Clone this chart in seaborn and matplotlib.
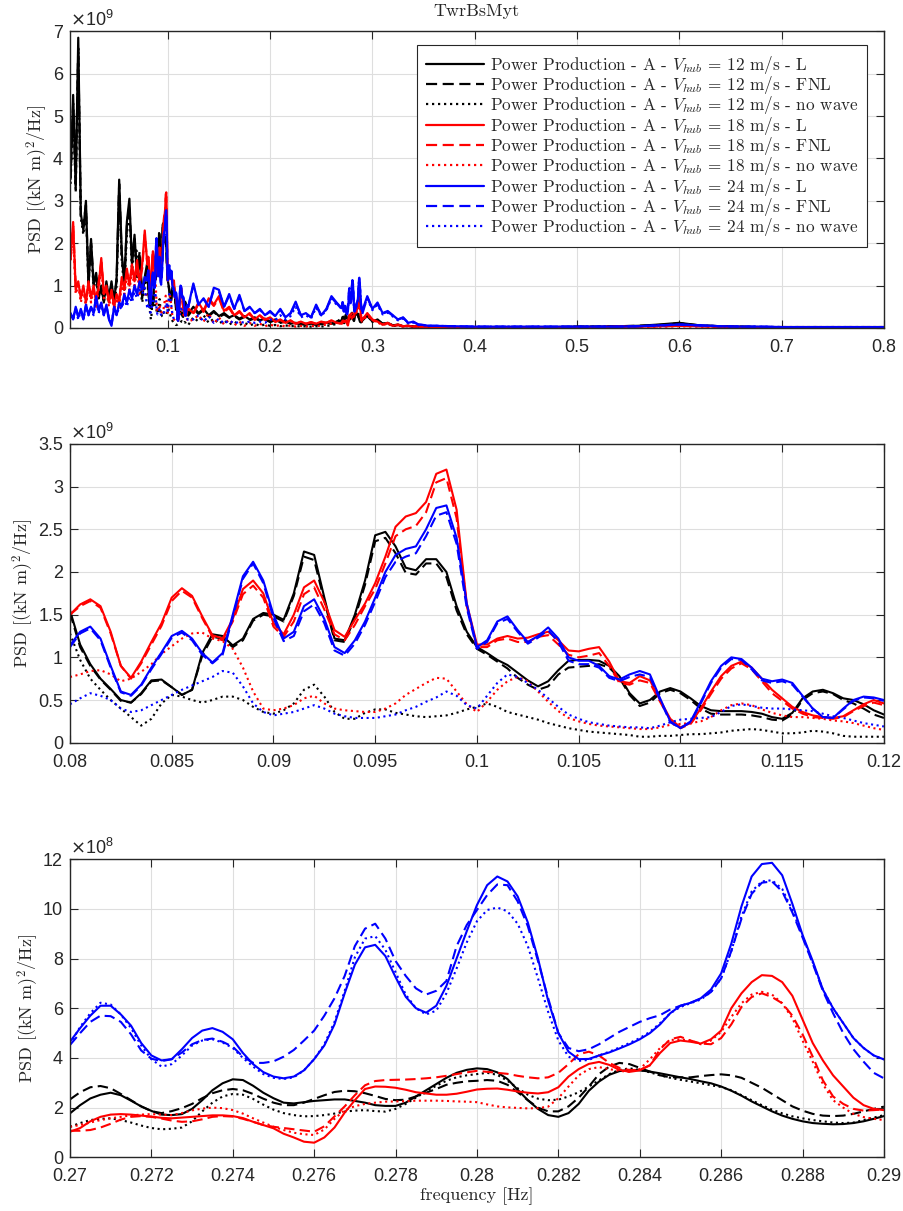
import numpy as np
import pandas as pd
import seaborn as sns
import matplotlib.pyplot as plt
from matplotlib.ticker import FuncFormatter

# ---- frequency grids ----
f1 = np.round(np.concatenate([np.arange(0.005, 0.0776, 0.0025),
                              np.arange(0.125, 0.2651, 0.005),
                              np.arange(0.295, 0.3551, 0.005),
                              np.arange(0.36, 0.8001, 0.02)]), 5)
f2 = np.round(np.linspace(0.08, 0.12, 81), 5)
f3 = np.round(np.linspace(0.27, 0.29, 81), 5)

# ---- overview panel (x1e9), outside the zoomed ranges ----
p1_12_L = [3.6, 5.5, 3.3, 6.85, 2.7, 2.3, 3.0, 1.0, 2.1, 1.0, 1.3, 0.7, 1.0, 0.6, 1.1, 0.7, 1.1, 0.6, 1.2, 3.5,
           1.8, 1.0, 2.5, 3.05, 1.5, 2.2, 1.2, 1.7, 0.7, 1.2,
           0.5, 0.35, 0.45, 0.3, 0.4, 0.28, 0.35, 0.25, 0.3, 0.22, 0.28, 0.2, 0.25, 0.18, 0.22, 0.15, 0.2, 0.13, 0.17, 0.1,
           0.12, 0.1, 0.08, 0.1, 0.08, 0.1, 0.12, 0.1, 0.15,
           0.3, 0.15, 0.2, 0.1, 0.12, 0.06, 0.08, 0.04, 0.05, 0.03, 0.04, 0.03, 0.03,
           0.03, 0.02, 0.02, 0.02, 0.02, 0.02, 0.02, 0.03, 0.03, 0.04, 0.05, 0.08, 0.12, 0.06, 0.04, 0.03, 0.02, 0.02,
           0.02, 0.02, 0.02, 0.02, 0.02]
p1_12_FNL = [3.5, 5.3, 3.4, 6.6, 2.6, 2.4, 2.9, 1.1, 2.0, 1.1, 1.2, 0.8, 0.9, 0.7, 1.0, 0.8, 1.0, 0.7, 1.1, 3.4,
             1.7, 1.1, 2.4, 2.9, 1.6, 2.1, 1.3, 1.8, 0.8, 1.1,
             0.45, 0.33, 0.42, 0.28, 0.38, 0.26, 0.32, 0.24, 0.28, 0.2, 0.26, 0.18, 0.23, 0.17, 0.2, 0.14, 0.18, 0.12, 0.15, 0.1,
             0.11, 0.09, 0.08, 0.09, 0.08, 0.09, 0.11, 0.1, 0.14,
             0.28, 0.15, 0.18, 0.1, 0.11, 0.06, 0.07, 0.04, 0.05, 0.03, 0.04, 0.03, 0.03,
             0.03, 0.02, 0.02, 0.02, 0.02, 0.02, 0.02, 0.03, 0.03, 0.04, 0.05, 0.07, 0.11, 0.06, 0.04, 0.03, 0.02, 0.02,
             0.02, 0.02, 0.02, 0.02, 0.02]
p1_12_NW = [3.4, 5.2, 3.2, 6.5, 2.6, 2.2, 2.8, 1.0, 2.0, 0.9, 1.2, 0.7, 0.9, 0.6, 1.0, 0.6, 1.0, 0.5, 1.0, 3.2,
            1.6, 0.9, 2.2, 2.8, 1.3, 1.9, 1.8, 1.0, 0.6, 1.0,
            0.25, 0.15, 0.3, 0.12, 0.22, 0.1, 0.18, 0.08, 0.15, 0.07, 0.12, 0.06, 0.1, 0.05, 0.08, 0.05, 0.07, 0.04, 0.06, 0.04,
            0.05, 0.03, 0.04, 0.03, 0.04, 0.03, 0.05, 0.06, 0.1,
            0.3, 0.15, 0.18, 0.09, 0.1, 0.05, 0.06, 0.04, 0.04, 0.03, 0.03, 0.02, 0.02,
            0.02, 0.02, 0.02, 0.02, 0.02, 0.02, 0.02, 0.02, 0.03, 0.03, 0.04, 0.06, 0.09, 0.05, 0.03, 0.02, 0.02, 0.02,
            0.02, 0.02, 0.02, 0.02, 0.02]
p1_18_L = [1.7, 2.5, 0.9, 1.1, 0.7, 1.0, 0.6, 1.1, 0.7, 1.0, 0.6, 1.0, 1.65, 0.8, 1.0, 0.6, 0.9, 0.5, 0.8, 0.6,
           1.2, 0.9, 1.4, 1.0, 1.5, 1.1, 1.6, 1.0, 1.5, 2.3,
           0.35, 0.6, 0.4, 0.7, 0.55, 0.75, 0.4, 0.5, 0.3, 0.4, 0.25, 0.35, 0.2, 0.3, 0.2, 0.25, 0.15, 0.2, 0.12, 0.18,
           0.1, 0.15, 0.1, 0.14, 0.1, 0.15, 0.12, 0.18, 0.12,
           0.35, 0.2, 0.15, 0.08, 0.12, 0.05, 0.08, 0.04, 0.05, 0.03, 0.04, 0.02, 0.03,
           0.02, 0.02, 0.02, 0.02, 0.02, 0.02, 0.02, 0.02, 0.02, 0.03, 0.03, 0.04, 0.05, 0.04, 0.03, 0.02, 0.02, 0.02,
           0.02, 0.02, 0.02, 0.02, 0.02]
p1_18_FNL = [1.6, 2.4, 1.0, 1.0, 0.8, 0.9, 0.7, 1.0, 0.8, 0.9, 0.7, 1.1, 1.55, 0.9, 0.9, 0.7, 0.8, 0.6, 0.7, 0.7,
             1.1, 1.0, 1.3, 1.1, 1.4, 1.2, 1.5, 1.1, 1.4, 2.2,
             0.33, 0.57, 0.38, 0.66, 0.52, 0.7, 0.38, 0.47, 0.28, 0.38, 0.24, 0.33, 0.19, 0.28, 0.19, 0.23, 0.14, 0.19, 0.11, 0.17,
             0.1, 0.14, 0.1, 0.13, 0.1, 0.14, 0.12, 0.17, 0.12,
             0.33, 0.19, 0.14, 0.08, 0.11, 0.05, 0.07, 0.04, 0.05, 0.03, 0.04, 0.02, 0.03,
             0.02, 0.02, 0.02, 0.02, 0.02, 0.02, 0.02, 0.02, 0.02, 0.03, 0.03, 0.04, 0.05, 0.04, 0.03, 0.02, 0.02, 0.02,
             0.02, 0.02, 0.02, 0.02, 0.02]
p1_18_NW = [1.6, 2.3, 0.8, 1.0, 0.6, 0.9, 0.5, 1.0, 0.6, 0.9, 0.5, 0.9, 1.5, 0.7, 0.9, 0.5, 0.8, 0.4, 0.7, 0.5,
            1.0, 0.8, 1.2, 0.9, 1.3, 1.0, 1.4, 0.8, 0.9, 0.8,
            0.2, 0.3, 0.15, 0.35, 0.1, 0.25, 0.08, 0.2, 0.06, 0.15, 0.05, 0.12, 0.05, 0.1, 0.04, 0.08, 0.04, 0.07, 0.03, 0.06,
            0.03, 0.05, 0.03, 0.05, 0.04, 0.06, 0.08, 0.1, 0.12,
            0.3, 0.18, 0.13, 0.07, 0.1, 0.05, 0.06, 0.03, 0.04, 0.03, 0.03, 0.02, 0.02,
            0.02, 0.02, 0.02, 0.02, 0.02, 0.02, 0.02, 0.02, 0.02, 0.02, 0.03, 0.03, 0.04, 0.03, 0.02, 0.02, 0.02, 0.02,
            0.02, 0.02, 0.02, 0.02, 0.02]
p1_24_L = [0.35, 0.2, 0.5, 0.25, 0.45, 0.2, 0.55, 0.3, 0.5, 0.35, 0.75, 0.4, 0.6, 0.3, 0.55, 0.2, 0.05, 0.5, 0.3, 0.6,
           0.5, 0.8, 0.6, 0.9, 0.7, 1.0, 0.8, 1.1, 0.9, 1.2,
           1.05, 0.55, 0.7, 0.5, 0.95, 0.9, 0.5, 0.8, 0.45, 0.78, 0.4, 0.5, 0.35, 0.45, 0.3, 0.4, 0.28, 0.45, 0.25, 0.35,
           0.62, 0.3, 0.35, 0.25, 0.55, 0.3, 0.45, 0.75, 0.6,
           0.75, 0.45, 0.6, 0.35, 0.4, 0.3, 0.2, 0.25, 0.12, 0.15, 0.08, 0.07, 0.05,
           0.05, 0.04, 0.03, 0.03, 0.03, 0.03, 0.03, 0.03, 0.03, 0.03, 0.04, 0.06, 0.08, 0.06, 0.04, 0.03, 0.03, 0.02,
           0.02, 0.02, 0.02, 0.02, 0.02]
p1_24_FNL = [0.33, 0.22, 0.48, 0.27, 0.43, 0.22, 0.52, 0.32, 0.48, 0.37, 0.7, 0.42, 0.58, 0.32, 0.52, 0.22, 0.08, 0.48, 0.32, 0.58,
             0.52, 0.77, 0.62, 0.87, 0.72, 0.96, 0.82, 1.06, 0.92, 1.15,
             1.0, 0.55, 0.68, 0.5, 0.9, 0.86, 0.5, 0.76, 0.45, 0.74, 0.4, 0.48, 0.35, 0.43, 0.3, 0.38, 0.28, 0.43, 0.25, 0.34,
             0.58, 0.3, 0.34, 0.25, 0.52, 0.3, 0.43, 0.72, 0.58,
             0.72, 0.44, 0.57, 0.34, 0.38, 0.29, 0.2, 0.24, 0.12, 0.14, 0.08, 0.07, 0.05,
             0.05, 0.04, 0.03, 0.03, 0.03, 0.03, 0.03, 0.03, 0.03, 0.03, 0.04, 0.06, 0.08, 0.06, 0.04, 0.03, 0.03, 0.02,
             0.02, 0.02, 0.02, 0.02, 0.02]
p1_24_NW = [0.3, 0.2, 0.45, 0.2, 0.4, 0.2, 0.5, 0.3, 0.45, 0.3, 0.65, 0.35, 0.55, 0.3, 0.5, 0.2, 0.1, 0.45, 0.3, 0.5,
            0.45, 0.7, 0.5, 0.75, 0.6, 0.85, 0.7, 0.9, 0.8, 0.95,
            0.2, 0.3, 0.15, 0.28, 0.12, 0.22, 0.1, 0.18, 0.1, 0.15, 0.12, 0.15, 0.12, 0.15, 0.12, 0.2, 0.18, 0.3, 0.2, 0.28,
            0.5, 0.25, 0.3, 0.22, 0.48, 0.28, 0.42, 0.7, 0.55,
            0.7, 0.42, 0.55, 0.32, 0.36, 0.27, 0.18, 0.22, 0.11, 0.13, 0.07, 0.06, 0.05,
            0.05, 0.04, 0.03, 0.03, 0.03, 0.03, 0.03, 0.03, 0.03, 0.03, 0.04, 0.06, 0.08, 0.06, 0.04, 0.03, 0.03, 0.02,
            0.02, 0.02, 0.02, 0.02, 0.02]

# ---- zoom 0.08-0.12 Hz (x1e9) ----
p2_12_L = [1.55, 1.15, 0.92, 0.75, 0.63, 0.50, 0.47, 0.58, 0.73, 0.74,
           0.65, 0.56, 0.62, 1.05, 1.27, 1.25, 1.14, 1.22, 1.45, 1.52,
           1.50, 1.44, 1.75, 2.24, 2.20, 1.70, 1.22, 1.20, 1.50, 1.90,
           2.43, 2.47, 2.30, 2.05, 2.02, 2.15, 2.15, 2.00, 1.60, 1.30,
           1.12, 1.05, 0.97, 0.91, 0.82, 0.73, 0.66, 0.72, 0.85, 0.96,
           0.97, 0.97, 0.96, 0.90, 0.78, 0.58, 0.46, 0.50, 0.60, 0.64,
           0.60, 0.52, 0.43, 0.38, 0.37, 0.37, 0.37, 0.36, 0.34, 0.30,
           0.28, 0.35, 0.52, 0.60, 0.62, 0.58, 0.52, 0.50, 0.45, 0.38,
           0.33]
p2_12_FNL = [1.52, 1.12, 0.90, 0.74, 0.62, 0.49, 0.47, 0.57, 0.72, 0.73,
             0.65, 0.56, 0.62, 1.02, 1.24, 1.22, 1.12, 1.20, 1.43, 1.50,
             1.48, 1.42, 1.72, 2.18, 2.14, 1.66, 1.20, 1.18, 1.46, 1.85,
             2.36, 2.40, 2.22, 1.99, 1.97, 2.10, 2.10, 1.94, 1.55, 1.27,
             1.10, 1.03, 0.95, 0.87, 0.76, 0.68, 0.62, 0.66, 0.80, 0.88,
             0.89, 0.90, 0.92, 0.88, 0.76, 0.56, 0.43, 0.47, 0.58, 0.62,
             0.58, 0.50, 0.40, 0.34, 0.33, 0.33, 0.33, 0.32, 0.30, 0.27,
             0.26, 0.33, 0.50, 0.58, 0.60, 0.57, 0.50, 0.46, 0.40, 0.33,
             0.29]
p2_12_NW = [1.28, 0.97, 0.75, 0.62, 0.50, 0.40, 0.30, 0.20, 0.28, 0.46,
            0.56, 0.54, 0.50, 0.47, 0.50, 0.54, 0.54, 0.50, 0.42, 0.36,
            0.34, 0.38, 0.46, 0.62, 0.68, 0.54, 0.36, 0.28, 0.28, 0.35,
            0.39, 0.39, 0.35, 0.33, 0.31, 0.30, 0.31, 0.32, 0.35, 0.39,
            0.42, 0.46, 0.42, 0.36, 0.33, 0.30, 0.27, 0.23, 0.20, 0.17,
            0.15, 0.13, 0.12, 0.11, 0.10, 0.09, 0.07, 0.07, 0.08, 0.08,
            0.09, 0.10, 0.10, 0.11, 0.12, 0.14, 0.15, 0.16, 0.15, 0.13,
            0.11, 0.11, 0.12, 0.14, 0.13, 0.11, 0.08, 0.07, 0.07, 0.07,
            0.07]
p2_18_L = [1.50, 1.62, 1.68, 1.60, 1.30, 0.90, 0.76, 0.95, 1.18, 1.40,
           1.70, 1.81, 1.72, 1.48, 1.26, 1.22, 1.45, 1.80, 1.90, 1.75,
           1.40, 1.27, 1.50, 1.82, 1.90, 1.65, 1.32, 1.24, 1.44, 1.63,
           1.87, 2.18, 2.53, 2.65, 2.69, 2.82, 3.15, 3.20, 2.73, 1.63,
           1.15, 1.15, 1.22, 1.25, 1.22, 1.23, 1.27, 1.30, 1.20, 1.08,
           1.07, 1.10, 1.12, 0.95, 0.72, 0.70, 0.78, 0.73, 0.50, 0.28,
           0.18, 0.23, 0.40, 0.60, 0.78, 0.90, 0.95, 0.88, 0.75, 0.62,
           0.52, 0.42, 0.36, 0.32, 0.30, 0.29, 0.31, 0.38, 0.45, 0.50,
           0.46]
p2_18_FNL = [1.50, 1.60, 1.66, 1.58, 1.28, 0.90, 0.75, 0.93, 1.15, 1.37,
             1.66, 1.78, 1.70, 1.46, 1.24, 1.20, 1.42, 1.74, 1.84, 1.70,
             1.36, 1.24, 1.42, 1.74, 1.82, 1.56, 1.27, 1.20, 1.38, 1.60,
             1.80, 2.10, 2.42, 2.50, 2.54, 2.70, 3.05, 3.10, 2.63, 1.60,
             1.12, 1.12, 1.20, 1.22, 1.18, 1.18, 1.24, 1.26, 1.15, 1.03,
             1.00, 1.02, 1.05, 0.90, 0.70, 0.68, 0.73, 0.70, 0.48, 0.27,
             0.17, 0.22, 0.38, 0.57, 0.75, 0.87, 0.93, 0.86, 0.72, 0.58,
             0.49, 0.40, 0.34, 0.30, 0.29, 0.28, 0.30, 0.37, 0.43, 0.47,
             0.44]
p2_18_NW = [0.77, 0.80, 0.84, 0.85, 0.80, 0.72, 0.75, 0.83, 0.92, 1.04,
            1.13, 1.22, 1.28, 1.29, 1.22, 1.19, 1.10, 0.88, 0.60, 0.40,
            0.38, 0.40, 0.44, 0.52, 0.55, 0.46, 0.40, 0.38, 0.37, 0.36,
            0.36, 0.40, 0.46, 0.56, 0.63, 0.70, 0.76, 0.75, 0.60, 0.45,
            0.36, 0.48, 0.62, 0.72, 0.77, 0.72, 0.60, 0.48, 0.37, 0.29,
            0.25, 0.22, 0.20, 0.19, 0.18, 0.17, 0.16, 0.16, 0.18, 0.21,
            0.22, 0.23, 0.25, 0.30, 0.38, 0.44, 0.46, 0.44, 0.39, 0.35,
            0.32, 0.30, 0.30, 0.29, 0.28, 0.26, 0.25, 0.23, 0.20, 0.17,
            0.15]
p2_24_L = [1.14, 1.30, 1.36, 1.22, 0.90, 0.60, 0.56, 0.68, 0.88, 1.06,
           1.25, 1.31, 1.22, 1.05, 0.94, 1.05, 1.50, 1.95, 2.12, 1.90,
           1.50, 1.22, 1.30, 1.60, 1.68, 1.45, 1.12, 1.05, 1.20, 1.42,
           1.70, 2.00, 2.20, 2.27, 2.30, 2.50, 2.75, 2.78, 2.40, 1.63,
           1.12, 1.20, 1.42, 1.48, 1.32, 1.18, 1.25, 1.35, 1.22, 1.00,
           0.96, 0.96, 0.90, 0.78, 0.74, 0.80, 0.84, 0.80, 0.52, 0.25,
           0.17, 0.25, 0.48, 0.72, 0.90, 1.00, 0.98, 0.88, 0.75, 0.72,
           0.74, 0.70, 0.55, 0.40, 0.30, 0.29, 0.40, 0.50, 0.54, 0.53,
           0.50]
p2_24_FNL = [1.12, 1.28, 1.34, 1.20, 0.88, 0.59, 0.55, 0.67, 0.86, 1.04,
             1.23, 1.29, 1.20, 1.03, 0.93, 1.03, 1.47, 1.92, 2.10, 1.87,
             1.46, 1.19, 1.25, 1.54, 1.62, 1.40, 1.08, 1.02, 1.16, 1.38,
             1.65, 1.94, 2.12, 2.18, 2.22, 2.42, 2.66, 2.70, 2.33, 1.58,
             1.10, 1.18, 1.40, 1.45, 1.30, 1.16, 1.23, 1.32, 1.18, 0.96,
             0.92, 0.92, 0.88, 0.76, 0.72, 0.77, 0.80, 0.77, 0.50, 0.24,
             0.17, 0.24, 0.46, 0.70, 0.88, 0.98, 0.97, 0.86, 0.73, 0.70,
             0.72, 0.68, 0.54, 0.40, 0.30, 0.29, 0.39, 0.49, 0.53, 0.52,
             0.49]
p2_24_NW = [0.45, 0.52, 0.58, 0.55, 0.50, 0.40, 0.36, 0.38, 0.44, 0.50,
            0.56, 0.62, 0.67, 0.72, 0.77, 0.84, 0.82, 0.66, 0.46, 0.36,
            0.32, 0.34, 0.36, 0.40, 0.44, 0.40, 0.34, 0.31, 0.29, 0.29,
            0.29, 0.31, 0.33, 0.38, 0.42, 0.48, 0.53, 0.60, 0.55, 0.44,
            0.40, 0.55, 0.70, 0.80, 0.77, 0.70, 0.62, 0.52, 0.42, 0.33,
            0.28, 0.24, 0.22, 0.20, 0.19, 0.18, 0.18, 0.17, 0.20, 0.24,
            0.27, 0.28, 0.29, 0.30, 0.36, 0.43, 0.45, 0.43, 0.41, 0.40,
            0.40, 0.39, 0.38, 0.37, 0.34, 0.31, 0.29, 0.26, 0.23, 0.21,
            0.19]

# ---- zoom 0.27-0.29 Hz (x1e8) ----
p3_12_L = [1.77, 2.10, 2.37, 2.52, 2.60, 2.50, 2.28, 2.05, 1.87, 1.72,
           1.70, 1.74, 1.95, 2.30, 2.70, 2.98, 3.14, 3.11, 2.88, 2.60,
           2.38, 2.20, 2.17, 2.22, 2.27, 2.30, 2.33, 2.33, 2.27, 2.20,
           2.10, 2.07, 2.07, 2.20, 2.45, 2.70, 2.95, 3.20, 3.40, 3.52,
           3.58, 3.55, 3.42, 3.15, 2.72, 2.30, 1.95, 1.70, 1.63, 1.78,
           2.15, 2.68, 3.05, 3.32, 3.47, 3.52, 3.50, 3.45, 3.38, 3.30,
           3.22, 3.15, 3.06, 2.98, 2.85, 2.68, 2.48, 2.25, 2.05, 1.85,
           1.68, 1.55, 1.45, 1.38, 1.35, 1.33, 1.34, 1.38, 1.45, 1.55,
           1.66]
p3_12_FNL = [2.33, 2.62, 2.82, 2.87, 2.78, 2.55, 2.30, 2.05, 1.86, 1.78,
             1.86, 1.98, 2.15, 2.38, 2.58, 2.70, 2.75, 2.70, 2.55, 2.36,
             2.20, 2.10, 2.10, 2.20, 2.35, 2.50, 2.63, 2.68, 2.66, 2.58,
             2.47, 2.35, 2.30, 2.32, 2.45, 2.60, 2.75, 2.92, 3.00, 3.06,
             3.08, 3.11, 3.08, 2.92, 2.62, 2.30, 2.00, 1.85, 1.85, 2.05,
             2.40, 2.85, 3.35, 3.65, 3.80, 3.75, 3.60, 3.45, 3.30, 3.22,
             3.22, 3.22, 3.27, 3.31, 3.34, 3.30, 3.20, 3.00, 2.80, 2.55,
             2.30, 2.05, 1.88, 1.75, 1.68, 1.66, 1.68, 1.75, 1.85, 1.95,
             2.04]
p3_12_NW = [1.23, 1.38, 1.50, 1.55, 1.57, 1.50, 1.40, 1.28, 1.18, 1.13,
            1.15, 1.20, 1.45, 1.85, 2.20, 2.45, 2.55, 2.52, 2.35, 2.12,
            1.92, 1.78, 1.70, 1.65, 1.66, 1.70, 1.76, 1.84, 1.88, 1.90,
            1.86, 1.84, 1.95, 2.15, 2.40, 2.65, 2.88, 3.08, 3.22, 3.30,
            3.35, 3.40, 3.32, 3.08, 2.78, 2.52, 2.36, 2.30, 2.32, 2.45,
            2.62, 2.85, 3.10, 3.35, 3.52, 3.58, 3.52, 3.42, 3.30, 3.20,
            3.12, 3.05, 2.98, 2.90, 2.83, 2.70, 2.50, 2.30, 2.10, 1.92,
            1.77, 1.65, 1.57, 1.50, 1.45, 1.40, 1.38, 1.40, 1.50, 1.60,
            1.70]
p3_18_L = [1.03, 1.18, 1.45, 1.63, 1.72, 1.74, 1.72, 1.68, 1.64, 1.59,
           1.57, 1.60, 1.63, 1.66, 1.69, 1.69, 1.66, 1.58, 1.43, 1.30,
           1.17, 0.95, 0.80, 0.63, 0.59, 0.80, 1.20, 1.80, 2.30, 2.75,
           2.85, 2.84, 2.80, 2.72, 2.62, 2.57, 2.52, 2.52, 2.56, 2.64,
           2.73, 2.76, 2.77, 2.72, 2.65, 2.60, 2.57, 2.62, 2.82, 3.25,
           3.55, 3.76, 3.84, 3.72, 3.52, 3.44, 3.50, 3.71, 4.20, 4.60,
           4.70, 4.65, 4.58, 4.75, 5.10, 6.00, 6.60, 7.05, 7.33, 7.30,
           7.05, 6.50, 5.55, 4.60, 3.90, 3.30, 2.85, 2.40, 2.10, 1.95,
           1.90]
p3_18_FNL = [1.07, 1.07, 1.10, 1.20, 1.35, 1.52, 1.63, 1.66, 1.63, 1.56,
             1.48, 1.43, 1.45, 1.53, 1.63, 1.66, 1.64, 1.55, 1.43, 1.30,
             1.23, 1.18, 1.13, 1.08, 1.03, 1.25, 1.65, 2.05, 2.50, 2.90,
             3.07, 3.11, 3.12, 3.13, 3.15, 3.18, 3.22, 3.28, 3.35, 3.42,
             3.48, 3.44, 3.40, 3.36, 3.28, 3.22, 3.18, 3.22, 3.40, 3.75,
             4.15, 4.25, 4.10, 3.80, 3.60, 3.51, 3.52, 3.70, 4.35, 4.75,
             4.85, 4.70, 4.58, 4.55, 4.80, 5.35, 6.05, 6.45, 6.60, 6.45,
             6.20, 5.70, 4.95, 4.05, 3.10, 2.45, 2.15, 1.95, 1.88, 1.90,
             1.93]
p3_18_NW = [1.23, 1.30, 1.40, 1.50, 1.57, 1.63, 1.69, 1.72, 1.74, 1.72,
            1.70, 1.78, 1.89, 1.96, 2.00, 1.98, 1.90, 1.76, 1.57, 1.40,
            1.23, 1.10, 0.99, 0.93, 0.90, 1.12, 1.55, 1.90, 2.06, 2.15,
            2.20, 2.24, 2.25, 2.26, 2.28, 2.28, 2.28, 2.27, 2.25, 2.24,
            2.22, 2.13, 2.05, 2.01, 1.99, 1.97, 1.98, 2.04, 2.38, 2.85,
            3.30, 3.55, 3.63, 3.55, 3.48, 3.44, 3.55, 3.95, 4.40, 4.72,
            4.75, 4.70, 4.55, 4.70, 5.05, 5.65, 6.20, 6.55, 6.66, 6.55,
            6.20, 5.60, 4.70, 3.85, 2.95, 2.30, 2.00, 1.75, 1.62, 1.55,
            1.50]
p3_24_L = [4.65, 5.20, 5.70, 6.10, 6.10, 5.75, 5.30, 4.60, 4.10, 3.90,
           3.95, 4.35, 4.80, 5.10, 5.20, 5.05, 4.75, 4.20, 3.75, 3.43,
           3.25, 3.18, 3.25, 3.50, 3.95, 4.50, 5.35, 6.60, 7.75, 8.45,
           8.55, 8.10, 7.25, 6.46, 6.00, 5.82, 6.10, 6.90, 8.00, 9.10,
           10.15, 10.95, 11.30, 11.10, 10.50, 9.45, 8.00, 6.30, 5.00, 4.25,
           3.95, 3.96, 4.10, 4.22, 4.38, 4.55, 4.75, 5.00, 5.35, 5.80,
           6.10, 6.22, 6.40, 6.75, 7.40, 8.60, 10.10, 11.30, 11.80, 11.85,
           11.35, 10.20, 8.95, 7.90, 6.75, 6.00, 5.40, 4.80, 4.40, 4.10,
           3.94]
p3_24_FNL = [4.52, 5.00, 5.45, 5.70, 5.68, 5.45, 4.95, 4.30, 3.97, 3.87,
             3.95, 4.22, 4.55, 4.72, 4.78, 4.65, 4.45, 4.05, 3.80, 3.80,
             3.86, 4.05, 4.32, 4.70, 5.10, 5.70, 6.40, 7.30, 8.50, 9.20,
             9.40, 8.80, 7.90, 7.30, 6.80, 6.55, 6.70, 7.10, 8.50, 9.35,
             9.95, 10.55, 10.98, 10.95, 10.30, 9.30, 7.90, 6.40, 5.00, 4.40,
             4.27, 4.35, 4.55, 4.80, 5.05, 5.25, 5.45, 5.60, 5.72, 5.95,
             6.10, 6.22, 6.38, 6.65, 7.20, 8.30, 9.60, 10.60, 11.05, 11.10,
             10.70, 9.85, 8.85, 7.80, 6.70, 5.80, 5.00, 4.35, 3.85, 3.40,
             3.18]
p3_24_NW = [4.55, 5.25, 5.80, 6.22, 6.15, 5.75, 5.20, 4.50, 3.95, 3.65,
            3.75, 4.10, 4.50, 4.70, 4.75, 4.62, 4.40, 4.00, 3.65, 3.35,
            3.20, 3.15, 3.22, 3.50, 3.95, 4.55, 5.45, 6.70, 8.05, 8.80,
            8.90, 8.35, 7.45, 6.55, 6.00, 5.75, 5.90, 6.60, 7.60, 8.65,
            9.50, 9.95, 10.05, 9.90, 9.40, 8.50, 7.20, 5.85, 4.70, 4.05,
            3.88, 3.92, 4.10, 4.25, 4.42, 4.60, 4.80, 5.05, 5.40, 5.80,
            6.05, 6.20, 6.35, 6.65, 7.20, 8.30, 9.70, 10.70, 11.10, 11.15,
            10.80, 9.95, 8.90, 7.85, 6.75, 6.00, 5.40, 4.80, 4.40, 4.10,
            3.94]

speeds = ['12', '18', '24']
models = ['L', 'FNL', 'no wave']
labels = [f'Power Production - A - $V_{{hub}}$ = {v} m/s - {m}' for v in speeds for m in models]
palette = dict(zip(labels, ['k'] * 3 + ['r'] * 3 + ['b'] * 3))
dashes = dict(zip(labels, ['', (5, 2.5), (1, 1.7)] * 3))

p1 = [p1_12_L, p1_12_FNL, p1_12_NW, p1_18_L, p1_18_FNL, p1_18_NW, p1_24_L, p1_24_FNL, p1_24_NW]
p2 = [p2_12_L, p2_12_FNL, p2_12_NW, p2_18_L, p2_18_FNL, p2_18_NW, p2_24_L, p2_24_FNL, p2_24_NW]
p3 = [p3_12_L, p3_12_FNL, p3_12_NW, p3_18_L, p3_18_FNL, p3_18_NW, p3_24_L, p3_24_FNL, p3_24_NW]


def long_df(freq, series, scale):
    return pd.concat([pd.DataFrame({'freq': freq, 'psd': np.array(s) * scale, 'label': lab})
                      for lab, s in zip(labels, series)], ignore_index=True)


df2 = long_df(f2, p2, 1e9)
df3 = long_df(f3, p3, 1e8)
df1 = pd.concat([long_df(f1, p1, 1e9), df2, df3], ignore_index=True)

sns.set_style('ticks')
plt.rcParams['font.family'] = ['Liberation Sans', 'DejaVu Sans']
plt.rcParams['mathtext.fontset'] = 'cm'
dark = '#262626'

fig = plt.figure(figsize=(9.04, 12.11), dpi=100)
ax1 = fig.add_axes([0.0774, 0.7292, 0.9004, 0.2449])
ax2 = fig.add_axes([0.0774, 0.3867, 0.9004, 0.2467])
ax3 = fig.add_axes([0.0774, 0.0443, 0.9004, 0.2463])

panels = [
    (ax1, df1, (0.0044, 0.8), np.arange(0.1, 0.81, 0.1), 7e9, np.arange(0, 7.1, 1), 1e9, '9', -0.024),
    (ax2, df2, (0.08, 0.12), np.linspace(0.08, 0.12, 9), 3.5e9, np.arange(0, 3.6, 0.5), 1e9, '9', -0.042),
    (ax3, df3, (0.27, 0.29), np.linspace(0.27, 0.29, 11), 12e8, np.arange(0, 13, 2), 1e8, '8', -0.035),
]

for ax, df, xlim, xt, ymax, yt, sc, ex, ylx in panels:
    sns.lineplot(data=df, x='freq', y='psd', hue='label', style='label',
                 hue_order=labels, style_order=labels, palette=palette, dashes=dashes,
                 estimator=None, lw=1.6 if ax is ax1 else 1.5, ax=ax, legend=(ax is ax1))
    ax.set_xlim(*xlim)
    ax.set_ylim(0, ymax)
    ax.set_xticks(xt)
    ax.set_yticks(yt * sc)
    ax.xaxis.set_major_formatter(FuncFormatter(lambda v, p: f'{v:.6g}'))
    ax.yaxis.set_major_formatter(FuncFormatter(lambda v, p, sc=sc: f'{v / sc:.6g}'))
    ax.grid(True, color='#dedede', lw=0.8)
    ax.set_axisbelow(True)
    ax.tick_params(direction='in', length=6, width=0.8, top=True, right=True,
                   labelsize=13, color=dark, labelcolor=dark)
    ax.tick_params(axis='x', pad=8)
    ax.tick_params(axis='y', pad=5)
    for s in ax.spines.values():
        s.set_color(dark)
        s.set_linewidth(1.0)
    ax.set_xlabel('')
    ax.set_ylabel(r'PSD [(kN m)$^2$/Hz]', fontfamily='cmr10', fontsize=13)
    ax.yaxis.set_label_coords(ylx, 0.5)
    ax.text(0, 1.003, r'$\times\mathdefault{10^{' + ex + '}}$', transform=ax.transAxes,
            ha='left', va='bottom', fontsize=13, color=dark, math_fontfamily='dejavusans')

ax1.set_title('TwrBsMyt', fontfamily='cmr10', fontsize=13, pad=11)
ax3.set_xlabel('frequency [Hz]', fontfamily='cmr10', fontsize=13, labelpad=1)

sns.move_legend(ax1, 'upper right', bbox_to_anchor=(0.979, 0.953), title=None,
                frameon=True, fancybox=False, framealpha=1, edgecolor=dark,
                prop={'family': 'cmr10', 'size': 12.3}, handlelength=3.4,
                handletextpad=0.35, labelspacing=-0.1, borderpad=0.5, borderaxespad=0)
ax1.get_legend().get_frame().set_linewidth(0.8)

fig.savefig('out.png', dpi=100)
